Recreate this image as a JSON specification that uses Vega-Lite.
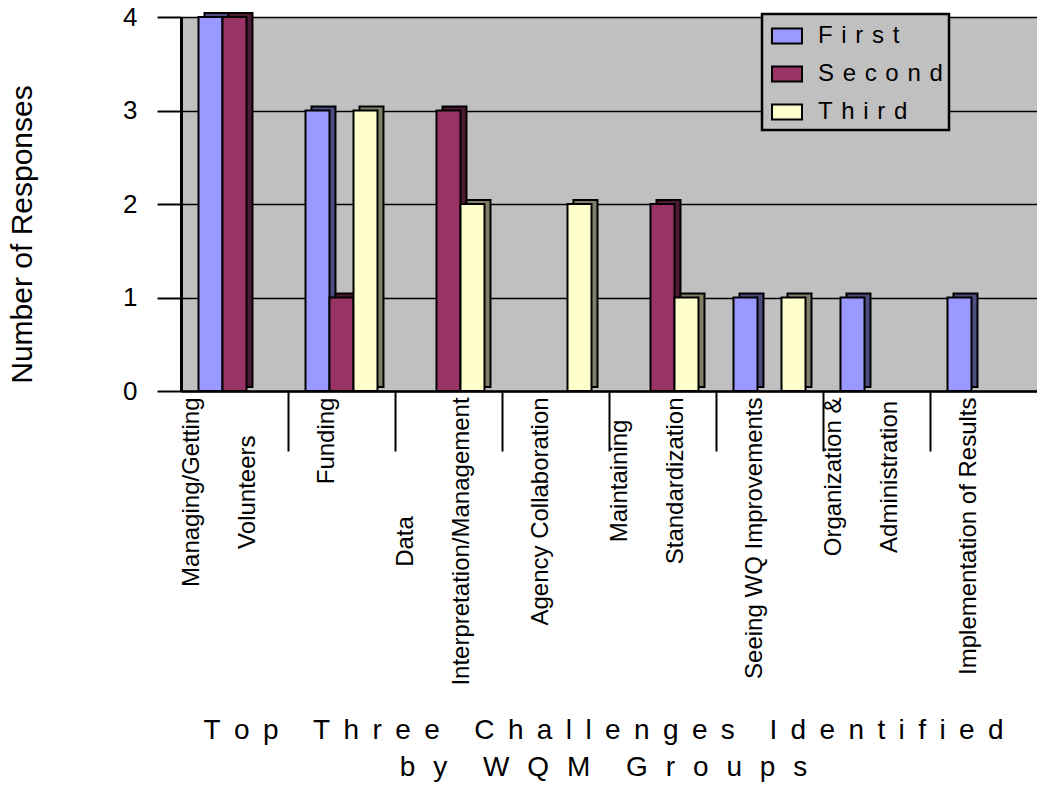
{
  "$schema": "https://vega.github.io/schema/vega-lite/v6.json",
  "width": 856,
  "height": 374,
  "autosize": {"type": "none"},
  "padding": {"left": 181, "top": 17, "right": 0, "bottom": 394},
  "background": "white",
  "config": {
    "font": "Liberation Sans",
    "view": {"fill": "#c0c0c0", "stroke": null},
    "legend": {"strokeWidth": 2.5}
  },
  "data": {
    "values": [
      {"challenge": "Managing/Getting Volunteers", "rank": "First", "responses": 4},
      {"challenge": "Managing/Getting Volunteers", "rank": "Second", "responses": 4},
      {"challenge": "Managing/Getting Volunteers", "rank": "Third", "responses": 0},
      {"challenge": "Funding", "rank": "First", "responses": 3},
      {"challenge": "Funding", "rank": "Second", "responses": 1},
      {"challenge": "Funding", "rank": "Third", "responses": 3},
      {"challenge": "Data Interpretation/Management", "rank": "First", "responses": 0},
      {"challenge": "Data Interpretation/Management", "rank": "Second", "responses": 3},
      {"challenge": "Data Interpretation/Management", "rank": "Third", "responses": 2},
      {"challenge": "Agency Collaboration", "rank": "First", "responses": 0},
      {"challenge": "Agency Collaboration", "rank": "Second", "responses": 0},
      {"challenge": "Agency Collaboration", "rank": "Third", "responses": 2},
      {"challenge": "Maintaining Standardization", "rank": "First", "responses": 0},
      {"challenge": "Maintaining Standardization", "rank": "Second", "responses": 2},
      {"challenge": "Maintaining Standardization", "rank": "Third", "responses": 1},
      {"challenge": "Seeing WQ Improvements", "rank": "First", "responses": 1},
      {"challenge": "Seeing WQ Improvements", "rank": "Second", "responses": 0},
      {"challenge": "Seeing WQ Improvements", "rank": "Third", "responses": 1},
      {"challenge": "Organization & Administration", "rank": "First", "responses": 1},
      {"challenge": "Organization & Administration", "rank": "Second", "responses": 0},
      {"challenge": "Organization & Administration", "rank": "Third", "responses": 0},
      {"challenge": "Implementation of Results", "rank": "First", "responses": 1},
      {"challenge": "Implementation of Results", "rank": "Second", "responses": 0},
      {"challenge": "Implementation of Results", "rank": "Third", "responses": 0}
    ]
  },
  "transform": [{"filter": "datum.responses > 0"}],
  "encoding": {
    "x": {
      "field": "challenge",
      "type": "nominal",
      "sort": [
        "Managing/Getting Volunteers",
        "Funding",
        "Data Interpretation/Management",
        "Agency Collaboration",
        "Maintaining Standardization",
        "Seeing WQ Improvements",
        "Organization & Administration",
        "Implementation of Results"
      ],
      "scale": {"paddingInner": 0, "paddingOuter": 0},
      "axis": {
        "title": [
          "T\u00a0\u2009o\u00a0\u2009p\u00a0\u2009\u00a0\u00a0\u2009T\u00a0\u2009h\u00a0\u2009r\u00a0\u2009e\u00a0\u2009e\u00a0\u2009\u00a0\u00a0\u2009C\u00a0\u2009h\u00a0\u2009a\u00a0\u2009l\u00a0\u2009l\u00a0\u2009e\u00a0\u2009n\u00a0\u2009g\u00a0\u2009e\u00a0\u2009s\u00a0\u2009\u00a0\u00a0\u2009I\u00a0\u2009d\u00a0\u2009e\u00a0\u2009n\u00a0\u2009t\u00a0\u2009i\u00a0\u2009f\u00a0\u2009i\u00a0\u2009e\u00a0\u2009d",
          "b\u00a0\u00a0\u200ay\u00a0\u00a0\u200a\u00a0\u00a0\u200aW\u00a0\u00a0\u200aQ\u00a0\u00a0\u200aM\u00a0\u00a0\u200a\u00a0\u00a0\u200aG\u00a0\u00a0\u200ar\u00a0\u00a0\u200ao\u00a0\u00a0\u200au\u00a0\u00a0\u200ap\u00a0\u00a0\u200as"
        ],
        "titleFontSize": 28,
        "titleFontWeight": "normal",
        "titleColor": "black",
        "titleX": 422,
        "titleY": 347,
        "titleAlign": "center",
        "titleBaseline": "alphabetic",
        "titleLineHeight": 37,
        "labelExpr": "datum.value === 'Managing/Getting Volunteers' ? ['Managing/Getting', 'Volunteers'] : datum.value === 'Data Interpretation/Management' ? ['Data', 'Interpretation/Management'] : datum.value === 'Maintaining Standardization' ? ['Maintaining', 'Standardization'] : datum.value === 'Organization & Administration' ? ['Organization &', 'Administration'] : datum.label",
        "labelAngle": 270,
        "labelAlign": "center",
        "labelBaseline": "middle",
        "labelFontSize": 24,
        "labelColor": "black",
        "labelLineHeight": 56,
        "labelOffset": {
          "condition": [
            {"test": "datum.value === 'Managing/Getting Volunteers' || datum.value === 'Data Interpretation/Management' || datum.value === 'Maintaining Standardization' || datum.value === 'Organization & Administration'", "value": -43}
          ],
          "value": -15
        },
        "labelPadding": {
          "condition": [
            {"test": "datum.value === 'Managing/Getting Volunteers'", "value": 40.7},
            {"test": "datum.value === 'Funding'", "value": -10.6},
            {"test": "datum.value === 'Data Interpretation/Management'", "value": 90},
            {"test": "datum.value === 'Agency Collaboration'", "value": 60},
            {"test": "datum.value === 'Maintaining Standardization'", "value": 29.4},
            {"test": "datum.value === 'Seeing WQ Improvements'", "value": 86.7},
            {"test": "datum.value === 'Organization & Administration'", "value": 25.4}
          ],
          "value": 84.7
        },
        "labelLimit": 600,
        "labelOverlap": false,
        "labelBound": false,
        "labelFlush": false,
        "bandPosition": 0,
        "tickSize": 60,
        "tickWidth": 2,
        "tickColor": "black",
        "tickOpacity": {
          "condition": {"test": "datum.value === 'Managing/Getting Volunteers'", "value": 0},
          "value": 1
        },
        "domainColor": "black",
        "domainWidth": 2.5,
        "grid": false
      }
    },
    "y": {
      "field": "responses",
      "type": "quantitative",
      "scale": {"domain": [0, 4], "nice": false},
      "axis": {
        "values": [0, 1, 2, 3, 4],
        "format": "d",
        "grid": true,
        "gridColor": "black",
        "gridWidth": 1.5,
        "domainColor": "black",
        "domainWidth": 3,
        "tickColor": "black",
        "tickWidth": 2,
        "tickSize": 24,
        "labelFontSize": 26,
        "labelColor": "black",
        "labelPadding": 20,
        "labelFlush": false,
        "title": "Number of Responses",
        "titleFontSize": 30,
        "titleFontWeight": "normal",
        "titleColor": "black",
        "titleAngle": 270,
        "titleX": -159,
        "titleY": 217,
        "titleAlign": "center",
        "titleBaseline": "middle"
      }
    }
  },
  "layer": [
    {
      "mark": {"type": "bar", "yOffset": -4, "stroke": "black", "strokeWidth": 2},
      "encoding": {
        "xOffset": {
          "field": "rank",
          "type": "nominal",
          "scale": {"domain": ["First", "Second", "Third"], "paddingInner": 0, "paddingOuter": 0.729, "align": 0.671}
        },
        "color": {
          "field": "rank",
          "type": "nominal",
          "scale": {"domain": ["First", "Second", "Third"], "range": ["#4d4d80", "#4d1a33", "#80806a"]},
          "legend": null
        }
      }
    },
    {
      "mark": {"type": "bar", "stroke": "black", "strokeWidth": 2, "opacity": 1},
      "encoding": {
        "xOffset": {
          "field": "rank",
          "type": "nominal",
          "scale": {"domain": ["First", "Second", "Third"], "paddingInner": 0, "paddingOuter": 0.729}
        },
        "color": {
          "field": "rank",
          "type": "nominal",
          "scale": {"domain": ["First", "Second", "Third"], "range": ["#9999ff", "#993366", "#ffffcc"]},
          "legend": {
            "title": null,
            "orient": "none",
            "legendX": 581,
            "legendY": -3,
            "fillColor": "#c0c0c0",
            "strokeColor": "black",
            "padding": 6,
            "symbolType": "M-1,-0.5H1V0.5H-1Z",
            "symbolSize": 900,
            "symbolStrokeColor": "black",
            "symbolStrokeWidth": 2,
            "symbolOpacity": 1,
            "symbolOffset": 3,
            "labelFontSize": 24,
            "labelColor": "black",
            "labelOffset": 15,
            "rowPadding": 10,
            "labelLimit": 300,
            "labelExpr": "join(split(datum.label, ''), '\u00a0\u200a')"
          }
        }
      }
    }
  ],
  "resolve": {"scale": {"xOffset": "independent", "color": "independent"}}
}
